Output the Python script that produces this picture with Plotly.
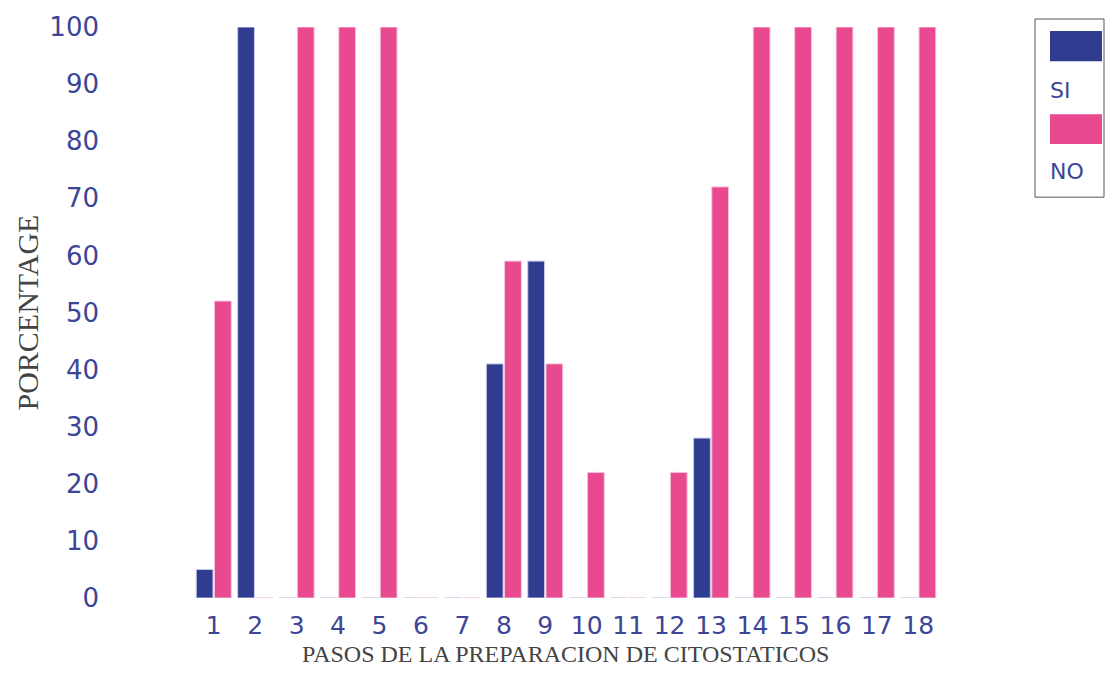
import plotly.graph_objects as go

categories = [str(i) for i in range(1, 19)]
si_values = [5, 100, 0, 0, 0, 0, 0, 41, 59, 0, 0, 0, 28, 0, 0, 0, 0, 0]
no_values = [52, 0, 100, 100, 100, 0, 0, 59, 41, 22, 0, 22, 72, 100, 100, 100, 100, 100]
y_ticks = list(range(0, 101, 10))

BLUE = "#2f3c8f"
PINK = "#e8498f"
TXT = "#3c4596"

fig = go.Figure()
fig.add_trace(go.Bar(x=categories, y=si_values, name="SI",
                     marker=dict(color=BLUE, line=dict(color="#c9cbe8", width=1))))
fig.add_trace(go.Bar(x=categories, y=no_values, name="NO",
                     marker=dict(color=PINK, line=dict(color="#f6c3dc", width=1))))

# page body has an 8px margin, so the figure is drawn smaller and shifted by 8px
fig.update_layout(
    width=1098, height=663,
    margin=dict(l=185, r=167, t=19, b=73),
    paper_bgcolor="white", plot_bgcolor="white",
    barmode="group", bargap=0.12, bargroupgap=0.08,
    showlegend=False,
    xaxis=dict(
        type="category", showgrid=False, zeroline=False, showline=False, automargin=False,
        tickfont=dict(family="DejaVu Sans", size=25, color=TXT),
        ticks="", ticklabelstandoff=10,
    ),
    yaxis=dict(
        range=[0, 100], tickvals=y_ticks, showgrid=False, zeroline=False, showline=False,
        automargin=False,
        tickfont=dict(family="DejaVu Sans", size=26, color=TXT),
        ticklabelstandoff=93,
    ),
)

# axis titles
fig.add_annotation(xref="paper", yref="paper", x=0.4987, y=-0.098,
                   text="PASOS DE LA PREPARACION DE CITOSTATICOS", showarrow=False,
                   xanchor="center", yanchor="middle",
                   font=dict(family="Liberation Serif", size=24, color="#444"))
fig.add_annotation(xref="paper", yref="paper", x=-0.2225, y=0.5,
                   text="PORCENTAGE", showarrow=False, textangle=-90,
                   xanchor="center", yanchor="middle",
                   font=dict(family="Liberation Serif", size=30, color="#444"))

# custom legend (swatch above label)
fig.add_shape(type="rect", xref="paper", yref="paper", x0=1.1287, x1=1.2212, y0=0.702, y1=1.014,
              line=dict(color="#555", width=1), fillcolor="rgba(0,0,0,0)")
fig.add_shape(type="rect", xref="paper", yref="paper", x0=1.1488, x1=1.2185, y0=0.940, y1=0.993,
              line=dict(width=0), fillcolor=BLUE)
fig.add_shape(type="rect", xref="paper", yref="paper", x0=1.1488, x1=1.2185, y0=0.795, y1=0.847,
              line=dict(width=0), fillcolor=PINK)
fig.add_annotation(xref="paper", yref="paper", x=1.146, y=0.888, text="SI", showarrow=False,
                   xanchor="left", yanchor="middle", font=dict(family="DejaVu Sans", size=22, color=TXT))
fig.add_annotation(xref="paper", yref="paper", x=1.146, y=0.747, text="NO", showarrow=False,
                   xanchor="left", yanchor="middle", font=dict(family="DejaVu Sans", size=22, color=TXT))

fig.write_html("out.html")
